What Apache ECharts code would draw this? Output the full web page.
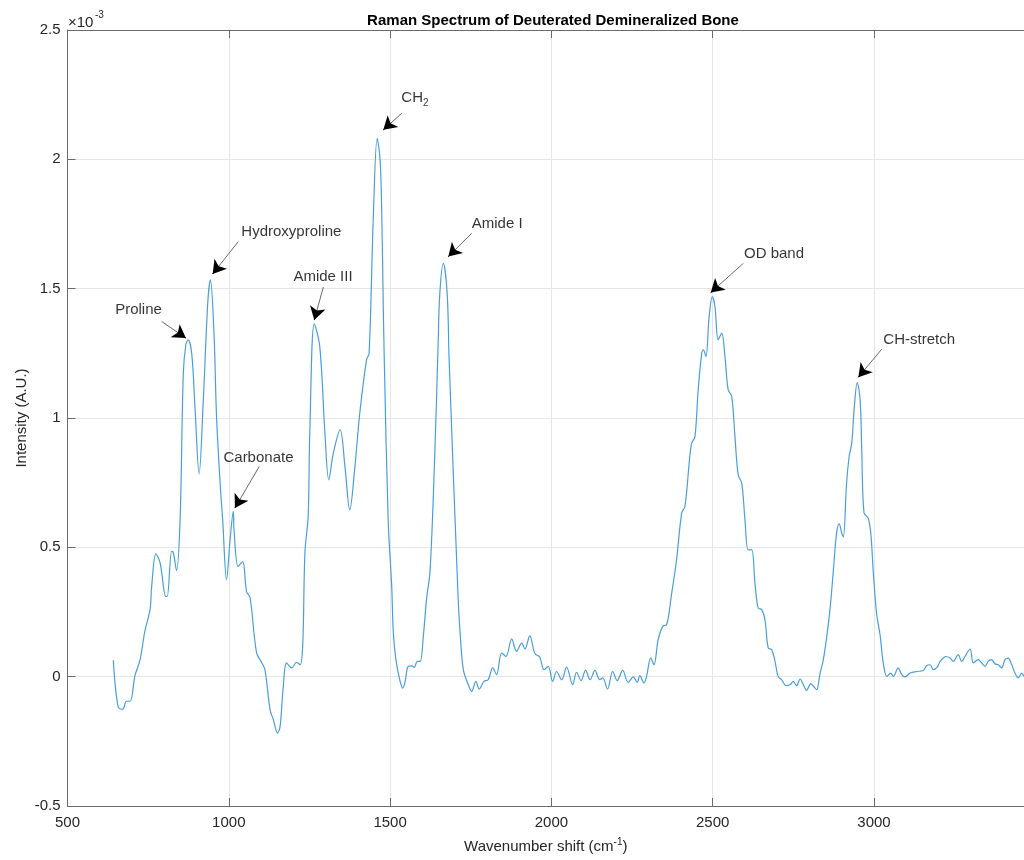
<!DOCTYPE html>
<html>
<head>
<meta charset="utf-8">
<script src="https://cdn.jsdelivr.net/npm/echarts@6/dist/echarts.min.js"></script>
<style>
html,body{margin:0;padding:0;background:#fff;}
#chart{width:1024px;height:860px;}
</style>
</head>
<body>
<div id="chart"></div>
<script>
// Wavenumber shift (cm^-1)
const wavenumber = [
642,657,671,683,694,709,725,740,756,761,774,787,805,809,823,828,838,849,859,867,874,885,895,908,921,935,943,954,962,973,981,993,1004,1014,1016,1029,1043,1055,1066,1086,1102,1112,1128,1138,1151,1159,1169,1179,1195,1210,1221,1229,1236,1246,1251,1265,1282,1298,1310,1324,1345,1360,1375,1391,1406,1427,1435,1448,1460,1469,1474,1479,1482,1494,1505,1510,1518,1530,1539,1546,1556,1567,1575,1584,1593,1603,1613,1624,1639,1649,1654,1665,1677,1683,1711,1717,1727,1742,1753,1766,1776,1791,1804,1818,1830,1846,1859,1877,1892,1908,1918,1933,1949,1964,1977,1990,2004,2016,2032,2047,2066,2078,2092,2106,2120,2135,2150,2159,2174,2190,2204,2221,2238,2254,2266,2274,2287,2295,2308,2318,2331,2347,2357,2373,2388,2404,2414,2429,2435,2445,2455,2466,2471,2479,2489,2499,2507,2517,2528,2538,2548,2559,2569,2579,2590,2600,2610,2621,2631,2641,2652,2662,2672,2683,2693,2703,2714,2727,2740,2750,2760,2771,2781,2791,2804,2812,2822,2833,2843,2853,2864,2874,2884,2892,2900,2905,2915,2923,2931,2939,2948,2957,2962,2969,2982,2990,2998,3008,3019,3029,3040,3052,3060,3075,3086,3096,3112,3132,3153,3163,3174,3184,3196,3205,3215,3223,3236,3246,3261,3272,3282,3298,3308,3323,3334,3344,3354,3364,3375,3385,3396,3406,3416,3427,3437,3447,3458,3465
];
// Intensity (A.U.) in units of 1e-3
const intensity = [
0.063,-0.117,-0.126,-0.095,-0.095,0.003,0.066,0.177,0.26,0.35,0.475,0.44,0.31,0.31,0.484,0.48,0.41,0.607,1.173,1.285,1.302,1.25,1.045,0.784,1.07,1.45,1.534,1.33,1.006,0.75,0.607,0.375,0.53,0.639,0.57,0.426,0.445,0.33,0.305,0.093,0.054,0.027,-0.128,-0.166,-0.218,-0.192,-0.037,0.053,0.034,0.055,0.046,0.117,0.48,0.62,0.94,1.364,1.276,0.94,0.761,0.864,0.954,0.813,0.645,0.813,1.019,1.225,1.25,1.778,2.081,1.998,1.80,1.418,1.225,0.607,0.349,0.17,0.066,-0.012,-0.044,-0.023,0.04,0.042,0.036,0.059,0.059,0.156,0.30,0.41,0.877,1.29,1.48,1.598,1.48,1.225,0.30,0.17,0.027,-0.03,-0.057,-0.018,-0.048,-0.018,-0.012,0.034,0.008,0.092,0.078,0.146,0.098,0.13,0.107,0.158,0.089,0.076,0.027,0.04,-0.018,0.02,-0.012,0.037,-0.031,0.017,-0.015,0.024,-0.012,0.024,-0.012,-0.005,-0.048,0.02,-0.015,0.024,-0.022,-0.001,-0.022,0.004,-0.024,0.001,0.072,0.046,0.143,0.197,0.20,0.323,0.452,0.633,0.658,0.851,0.903,0.928,1.109,1.251,1.263,1.238,1.392,1.469,1.431,1.302,1.328,1.238,1.109,1.083,0.928,0.781,0.748,0.607,0.49,0.49,0.362,0.265,0.259,0.22,0.111,0.104,0.06,0.001,-0.012,-0.035,-0.031,-0.018,-0.035,-0.009,-0.031,-0.053,-0.027,-0.037,-0.05,0.014,0.066,0.15,0.265,0.41,0.555,0.591,0.555,0.54,0.748,0.851,0.903,1.044,1.137,1.07,0.877,0.633,0.613,0.555,0.401,0.245,0.16,0.05,0.001,0.014,0.001,0.034,0.008,-0.001,0.014,0.02,0.024,0.042,0.046,0.027,0.037,0.059,0.072,0.078,0.072,0.059,0.085,0.059,0.078,0.107,0.053,0.066,0.053,0.04,0.059,0.066,0.05,0.046,0.034,0.066,0.072,0.046,0.014,-0.005,0.014,0.001
];
// Peak annotations: label, label anchor, arrow tail, arrow head (data coords)
const annotationLabels = ['Proline','Hydroxyproline','Amide III','Carbonate','CH2','Amide I','OD band','CH-stretch'];
const annotationText = [[720,1.418],[1194,1.719],[1292,1.545],[1092,0.846],[1577,2.237],[1832,1.750],[2690,1.634],[3140,1.302]];
const arrowFrom = [[792,1.373],[1029.5,1.682],[1293,1.506],[1094.6,0.813],[1536,2.178],[1753,1.714],[2595,1.598],[3024,1.266]];
const arrowTo = [[867,1.309],[950,1.557],[1265,1.379],[1019,0.652],[1479,2.114],[1680.5,1.624],[2494,1.485],[2951.6,1.158]];
const xTicks = {min:500, max:3465, interval:500};
const yTicks = {min:-0.5, max:2.5, interval:0.5};

const spectrum = wavenumber.map((x,i)=>[x,intensity[i]]);
const FONT = '"Liberation Sans", Arial, Helvetica, sans-serif';
const axisColor = '#6b6b6b';
const textColor = '#262626';

// arrow shafts (gray) + arrow heads (black) as markLine items
const arrowItems = [];
arrowFrom.forEach((f,i)=>{
  const t = arrowTo[i];
  arrowItems.push([{coord:f, symbol:'none', lineStyle:{color:'#6a6a6a',width:1}},{coord:t, symbol:'none'}]);
  const k = 0.8;
  const mid = [f[0]+(t[0]-f[0])*k, f[1]+(t[1]-f[1])*k];
  arrowItems.push([{coord:mid, symbol:'none', lineStyle:{color:'#000',width:1}},{coord:t, symbol:'arrow', symbolSize:[12,13]}]);
});

const chart = echarts.init(document.getElementById('chart'), null, {renderer:'canvas'});
chart.setOption({
  animation:false,
  backgroundColor:'#fff',
  textStyle:{fontFamily:FONT},
  title:{
    text:'Raman Spectrum of Deuterated Demineralized Bone',
    left:548, top:8, textAlign:'center',
    textStyle:{fontFamily:FONT,fontSize:15,fontWeight:'bold',color:'#000'}
  },
  grid:{left:67.5,right:0,top:30,bottom:54,containLabel:false},
  xAxis:[{
    type:'value', min:xTicks.min, max:xTicks.max, interval:xTicks.interval,
    position:'bottom',
    name:'{a|Wavenumber shift (cm}{b|-1}{a|)}',
    nameLocation:'middle', nameGap:31, nameMoveOverlap:false,
    nameTextStyle:{rich:{
      a:{fontFamily:FONT,fontSize:15,color:textColor,lineHeight:20},
      b:{fontFamily:FONT,fontSize:10,color:textColor,lineHeight:10,verticalAlign:'top'}
    }},
    axisLine:{show:true,onZero:false,lineStyle:{color:axisColor,width:1}},
    axisTick:{show:true,inside:true,length:8,lineStyle:{color:axisColor}},
    axisLabel:{show:true,margin:9,fontSize:15,color:textColor,fontFamily:FONT,showMaxLabel:false,formatter:v=>String(v)},
    splitLine:{show:true,lineStyle:{color:'#e6e6e6',width:1}}
  },{
    type:'value', min:xTicks.min, max:xTicks.max, interval:xTicks.interval,
    position:'top',
    axisLine:{show:true,onZero:false,lineStyle:{color:axisColor,width:1}},
    axisTick:{show:true,inside:true,length:8,lineStyle:{color:axisColor}},
    axisLabel:{show:false},
    splitLine:{show:false}
  }],
  yAxis:{
    type:'value', min:yTicks.min, max:yTicks.max, interval:yTicks.interval,
    name:'Intensity (A.U.)', nameLocation:'middle', nameGap:38, nameMoveOverlap:false,
    nameTextStyle:{fontFamily:FONT,fontSize:15,color:textColor},
    axisLine:{show:true,onZero:false,lineStyle:{color:axisColor,width:1}},
    axisTick:{show:true,inside:true,length:8,lineStyle:{color:axisColor}},
    axisLabel:{show:true,margin:7,fontSize:15,color:textColor,fontFamily:FONT},
    splitLine:{show:true,lineStyle:{color:'#e6e6e6',width:1}}
  },
  graphic:[
    {type:'text',left:68,top:15,style:{text:'×10',font:'15px '+FONT,fill:textColor}},
    {type:'text',left:95,top:10,style:{text:'-3',font:'10px '+FONT,fill:textColor}}
  ],
  series:[{
    type:'line',
    data:spectrum,
    showSymbol:false,
    smooth:0.35,
    lineStyle:{color:'#4a9edb',width:1.2},
    emphasis:{disabled:true},
    markLine:{
      silent:true,
      symbol:['none','none'],
      lineStyle:{type:'solid'},
      label:{show:false},
      emphasis:{disabled:true},
      data:arrowItems
    }
  },{
    type:'scatter',
    symbolSize:0,
    silent:true,
    data:annotationLabels.map((t,i)=>({value:annotationText[i],name:t})),
    label:{
      show:true, position:'inside', align:'center', verticalAlign:'middle',
      formatter:p=> p.name==='CH2' ? '{a|CH}{s|2}' : '{a|'+p.name+'}',
      rich:{
        a:{fontFamily:FONT,fontSize:15,color:'#000',lineHeight:20},
        s:{fontFamily:FONT,fontSize:10,color:'#000',lineHeight:10,verticalAlign:'bottom'}
      }
    }
  }]
});
</script>
</body>
</html>
